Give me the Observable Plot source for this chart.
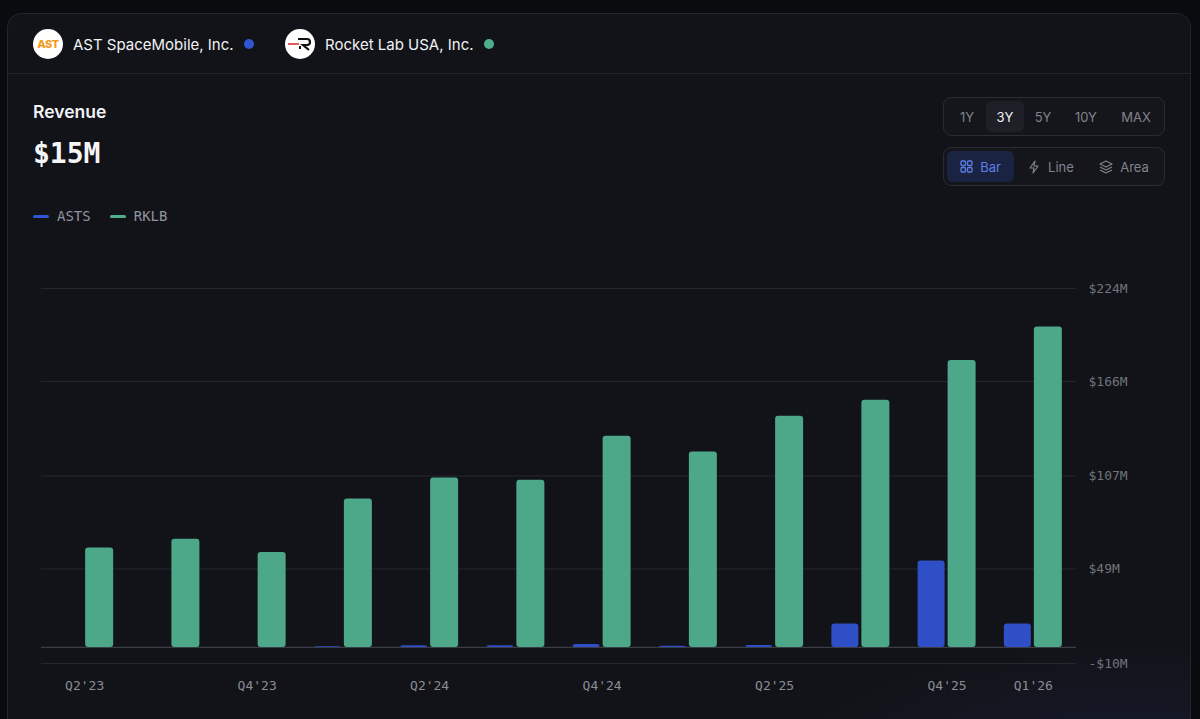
<!DOCTYPE html>
<html>
<head>
<meta charset="utf-8">
<script src="https://cdn.jsdelivr.net/npm/d3@7"></script>
<script src="https://cdn.jsdelivr.net/npm/@observablehq/plot@0.6"></script>
<style>
  html, body { margin: 0; padding: 0; }
  body { width: 1200px; height: 719px; background: #0a0b0f; overflow: hidden; position: relative; font-family: Inter, "Noto Sans", sans-serif; }
  .card { position: absolute; left: 7px; top: 13px; width: 1182px; height: 740px; background: #121318; border: 1px solid #23252c; border-radius: 14px; overflow: hidden; }
  .glow { position: absolute; left: 700px; top: 600px; width: 600px; height: 300px; background: radial-gradient(ellipse at 70% 60%, rgba(40,60,140,0.22), rgba(40,60,140,0) 60%); }
  .sep { position: absolute; left: 0; top: 59px; width: 100%; height: 1px; background: #23252c; }
  .co { position: absolute; top: 15px; height: 30px; display: flex; align-items: center; color: #f1f2f5; font-size: 15px; }
  .logo { width: 30px; height: 30px; border-radius: 50%; background: #fff; display: flex; align-items: center; justify-content: center; margin-right: 10px; overflow: hidden; }
  .dot { width: 10px; height: 10px; border-radius: 50%; margin-left: 10px; }
  .title { position: absolute; left: 25px; top: 87px; color: #f1f2f5; font-size: 17.5px; font-weight: 600; }
  .value { position: absolute; left: 25px; top: 123px; color: #f4f5f7; font-family: "DejaVu Sans Mono", "Liberation Mono", monospace; font-size: 28px; font-weight: bold; }
  .legend { position: absolute; left: 25px; top: 194px; display: flex; align-items: center; font-family: "DejaVu Sans Mono", "Liberation Mono", monospace; font-size: 14px; color: #9093a0; }
  .sw { width: 16px; height: 3px; border-radius: 2px; margin-right: 8px; }
  .grp { position: absolute; left: 935px; width: 222px; height: 39px; border: 1px solid #2a2c34; border-radius: 8px; background: #15161b; box-sizing: border-box; }
  .btn { position: absolute; top: 3px; height: 31px; display: flex; align-items: center; justify-content: center; font-size: 13px; color: #80838d; border-radius: 6px; }
  #chart { position: absolute; left: 0; top: 270px; }
</style>
</head>
<body>
<div class="card">
  <div class="glow"></div>
  <div class="co" style="left:25px">
    <div class="logo"><span style="color:#f39a1e;font-weight:800;font-size:11px;letter-spacing:-0.5px">AST</span></div>
    <span>AST SpaceMobile, Inc.</span><div class="dot" style="background:#2f55d4"></div>
  </div>
  <div class="co" style="left:277px">
    <div class="logo">
      <svg width="30" height="30" viewBox="0 0 30 30"><line x1="3" y1="15" x2="14" y2="15" stroke="#d42a2a" stroke-width="1.5"/><path d="M13 10 H22 Q25 10 25 13 Q25 16 22 16 H18 L24 21" fill="none" stroke="#111" stroke-width="2.2"/><line x1="15" y1="17" x2="15" y2="20" stroke="#111" stroke-width="2"/></svg>
    </div>
    <span>Rocket Lab USA, Inc.</span><div class="dot" style="background:#4fae8c"></div>
  </div>
  <div class="sep"></div>
  <div class="title">Revenue</div>
  <div class="value">$15M</div>
  <div class="legend">
    <div class="sw" style="background:#2f55d4"></div><span style="margin-right:19px">ASTS</span>
    <div class="sw" style="background:#4fae8c"></div><span>RKLB</span>
  </div>
  <div class="grp" style="top:83px">
    <div class="btn" style="left:8px;width:30px">1Y</div>
    <div class="btn" style="left:42px;width:38px;background:#1f2027;color:#f1f2f5">3Y</div>
    <div class="btn" style="left:84px;width:30px">5Y</div>
    <div class="btn" style="left:122px;width:40px">10Y</div>
    <div class="btn" style="left:170px;width:44px">MAX</div>
  </div>
  <div class="grp" style="top:133px">
    <div class="btn" style="left:3px;width:67px;background:#1b2342;color:#5b7fe6">
      <svg width="13" height="13" viewBox="0 0 13 13" style="margin-right:7px"><g fill="none" stroke="#5b7fe6" stroke-width="1.3"><rect x="1" y="1" width="4.5" height="4.5" rx="1"/><rect x="7.5" y="1" width="4.5" height="4.5" rx="1"/><rect x="1" y="7.5" width="4.5" height="4.5" rx="1"/><rect x="7.5" y="7.5" width="4.5" height="4.5" rx="1"/></g></svg>Bar</div>
    <div class="btn" style="left:76px;width:62px">
      <svg width="12" height="14" viewBox="0 0 12 14" style="margin-right:8px"><path d="M7 1 L2 8 H6 L5 13 L10 6 H6 Z" fill="none" stroke="#80838d" stroke-width="1.2" stroke-linejoin="round"/></svg>Line</div>
    <div class="btn" style="left:147px;width:66px">
      <svg width="14" height="14" viewBox="0 0 14 14" style="margin-right:7px"><g fill="none" stroke="#80838d" stroke-width="1.2" stroke-linejoin="round"><path d="M7 1 L13 4 L7 7 L1 4 Z"/><path d="M1 7 L7 10 L13 7"/><path d="M1 10 L7 13 L13 10"/></g></svg>Area</div>
  </div>
</div>
<div id="chart"></div>
<script>
const quarters = ["Q2'23","Q3'23","Q4'23","Q1'24","Q2'24","Q3'24","Q4'24","Q1'25","Q2'25","Q3'25","Q4'25","Q1'26"];
const astsRevenue = [0, 0, 0, 0.5, 1.0, 1.1, 1.9, 0.7, 1.2, 14.6, 54.0, 14.6];
const rklbRevenue = [62.0, 67.6, 59.3, 92.6, 105.7, 104.4, 131.8, 121.9, 144.3, 154.2, 179.1, 199.9];
const xTickLabels = ["Q2'23","Q4'23","Q2'24","Q4'24","Q2'25","Q4'25","Q1'26"];
const yTicks = [-10, 49, 107, 166, 224];
const seriesColors = {ASTS: "#2e4fc6", RKLB: "#4da889"};

const asts = quarters.map((q, i) => ({quarter: q, ticker: "ASTS", value: astsRevenue[i]}));
const rklb = quarters.map((q, i) => ({quarter: q, ticker: "RKLB", value: rklbRevenue[i]}));
const fmt = d => d < 0 ? `-$${-d}M` : `$${d}M`;

const chart = Plot.plot({
  width: 1200,
  height: 440,
  marginLeft: 41,
  marginRight: 124,
  marginTop: 18,
  marginBottom: 47,
  style: {background: "transparent", color: "#70737d", fontFamily: "'DejaVu Sans Mono', 'Liberation Mono', monospace", fontSize: "13px"},
  x: {domain: quarters, paddingInner: 0.3275, paddingOuter: 0.164, round: false, label: null},
  y: {domain: [-10, 224], label: null},
  marks: [
    Plot.ruleY(yTicks, {stroke: "#262830", strokeWidth: 1}),
    Plot.ruleY([0], {stroke: "#3a3d46", strokeWidth: 1.2}),
    Plot.barY(asts, {x: "quarter", y: "value", fill: seriesColors.ASTS, insetRight: 31, rx: 3}),
    Plot.barY(rklb, {x: "quarter", y: "value", fill: seriesColors.RKLB, insetLeft: 30, rx: 3}),
    Plot.axisX({ticks: xTickLabels, tickSize: 0, tickPadding: 17, fill: "#8a8d96", fontSize: 13}),
    Plot.axisY({anchor: "right", ticks: yTicks, tickFormat: fmt, tickSize: 0, tickPadding: 12, fill: "#70737d", fontSize: 13})
  ]
});
document.getElementById("chart").appendChild(chart);
</script>
</body>
</html>
